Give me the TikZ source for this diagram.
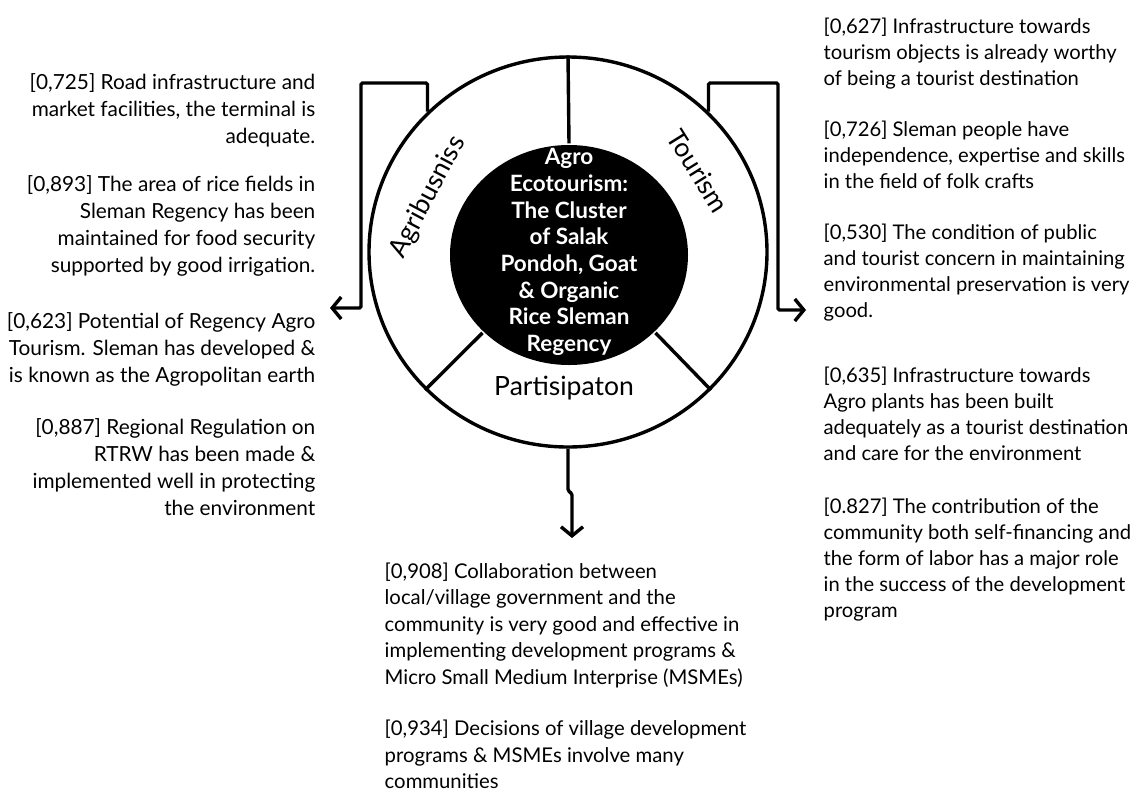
\documentclass[tikz,border=0pt]{standalone}
\usepackage{fontspec}
\setmainfont{Lato}
\usetikzlibrary{arrows.meta,shapes.geometric}

\begin{document}
\begin{tikzpicture}[x=1pt,y=-1pt,line width=3.4pt,
    link/.style={-{Straight Barb[length=9pt,width=22pt]},rounded corners=1.5pt},
    note/.style={inner sep=0pt,font=\fontsize{20.8}{27}\selectfont},
    part/.style={inner sep=0pt,font=\fontsize{26.5}{30}\selectfont}]
  \useasboundingbox (0,0) rectangle (1141,793);
  % wheel and hub
  \node[draw,ellipse,minimum width=398pt,minimum height=390pt,inner sep=0pt] (wheel) at (568,252) {};
  \node[ellipse,fill=black,minimum width=238pt,minimum height=220pt,inner sep=0pt] (hub) at (569,255) {};
  \node[text=white,align=center,font=\bfseries\fontsize{22.5}{26.7}\selectfont] (title) at (569,252)
    {Agro\\Ecotourism:\\The Cluster\\of Salak\\Pondoh, Goat\\\& Organic\\Rice Sleman\\Regency};
  \draw (hub.90) -- (wheel.90);
  \draw (hub.222) -- (wheel.224);
  \draw (hub.318) -- (wheel.316);
  \node[part,rotate=62] (agri) at (428,197) {Agribusniss};
  \node[part,rotate=-58] (tour) at (698,171) {Tourism};
  \node[part] (parti) at (564,388) {Partisipaton};

  % indicator texts
  \node[note,align=right,anchor=north east] (agritext) at (317,72)
    {{[0,725]} Road infrastructure and\\market facilities, the terminal is\\adequate.\\[21pt]
     {[0,893]} The area of rice fields in\\Sleman Regency has been\\maintained for food security\\supported by good irrigation.\\[29pt]
     {[0,623]} Potential of Regency Agro\\Tourism. Sleman has developed \&\\is known as the Agropolitan earth\\[25pt]
     {[0,887]} Regional Regulation on\\RTRW has been made \&\\implemented well in protecting\\the environment};
  \node[note,font=\fontsize{20.2}{26}\selectfont,align=left,anchor=north west] (tourtext) at (822,16)
    {{[0,627]} Infrastructure towards\\tourism objects is already worthy\\of being a tourist destination\\[25pt]
     {[0,726]} Sleman people have\\independence, expertise and skills\\in the field of folk crafts\\[25pt]
     {[0,530]} The condition of public\\and tourist concern in maintaining\\environmental preservation is very\\good.\\[39pt]
     {[0,635]} Infrastructure towards\\Agro plants has been built\\adequately as a tourist destination\\and care for the environment\\[27pt]
     {[0.827]} The contribution of the\\community both self-financing and\\the form of labor has a major role\\in the success of the development\\program};
  \node[note,font=\fontsize{20.3}{26.5}\selectfont,align=left,anchor=north west] (partitext) at (383,561)
    {{[0,908]} Collaboration between\\local/village government and the\\community is very good and effective in\\implementing development programs \&\\Micro Small Medium Interprise (MSMEs)\\[25pt]
     {[0,934]} Decisions of village development\\programs \& MSMEs involve many\\communities};

  % connectors
  \coordinate (agritip) at (330,308);
  \coordinate (tourtip) at (806,310);
  \coordinate (partitip) at (572,538);
  \draw[link] (wheel.135) |- (361,83) |- (agritip);
  \draw[link] (wheel.45) |- (778,83) |- (tourtip);
  \draw[link] (wheel.270) -- ++(0,42) -- ++(4,3) -- (partitip);
\end{tikzpicture}
\end{document}
